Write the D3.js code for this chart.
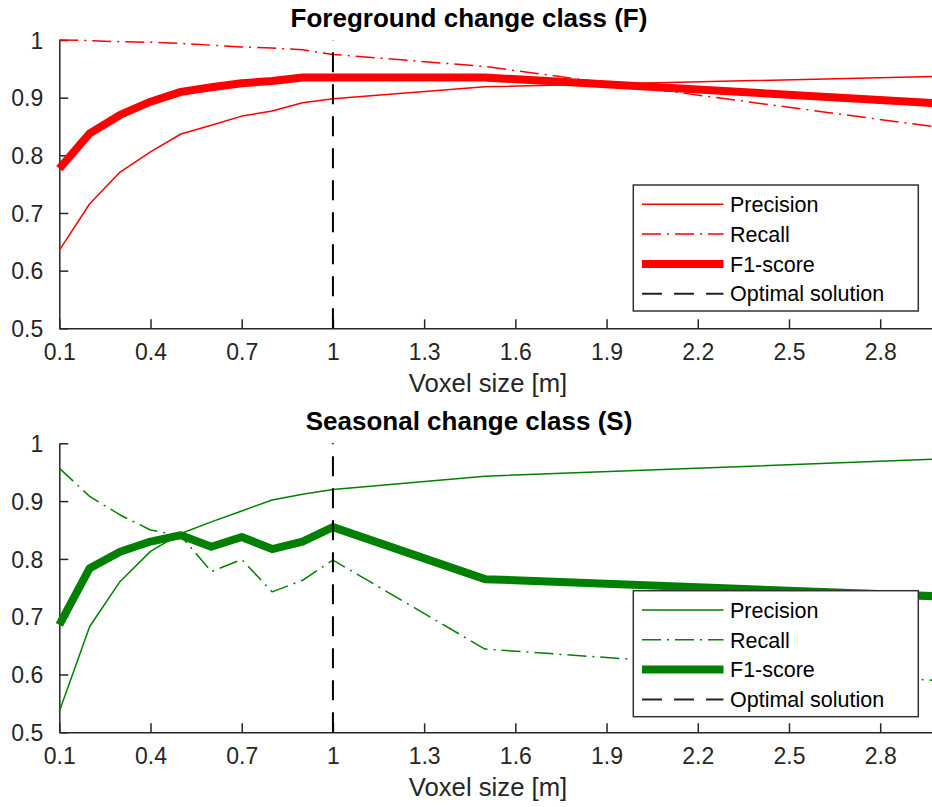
<!DOCTYPE html>
<html>
<head>
<meta charset="utf-8">
<script src="https://cdn.jsdelivr.net/npm/d3@7"></script>
<style>
  html, body { margin: 0; padding: 0; background: #fff; }
  svg { display: block; font-family: "Liberation Sans", Arial, Helvetica, sans-serif; }
</style>
</head>
<body>
<svg id="chart" width="932" height="807"></svg>
<script>
// Voxel sizes evaluated [m]
const voxelSizes = [0.1, 0.2, 0.3, 0.4, 0.5, 0.6, 0.7, 0.8, 0.9, 1.0, 1.5, 3.0];

// Foreground change class (F)
const precisionF = [0.635, 0.716, 0.771, 0.806, 0.837, 0.852, 0.868, 0.877, 0.891, 0.898, 0.919, 0.937];
const recallF    = [1.000, 0.999, 0.997, 0.996, 0.994, 0.991, 0.988, 0.986, 0.983, 0.975, 0.954, 0.848];
const f1F        = [0.777, 0.838, 0.870, 0.893, 0.910, 0.918, 0.925, 0.929, 0.935, 0.935, 0.935, 0.890];

// Seasonal change class (S)
const precisionS = [0.536, 0.683, 0.761, 0.813, 0.844, 0.864, 0.883, 0.902, 0.912, 0.920, 0.943, 0.973];
const recallS    = [0.957, 0.908, 0.876, 0.850, 0.840, 0.778, 0.799, 0.743, 0.763, 0.798, 0.644, 0.589];
const f1S        = [0.686, 0.784, 0.8125, 0.830, 0.841, 0.821, 0.838, 0.817, 0.830, 0.855, 0.765, 0.735];

// Chosen voxel size
const optimalSize = 1.0;

// Axis ticks and labels
const xTicks = [0.1, 0.4, 0.7, 1.0, 1.3, 1.6, 1.9, 2.2, 2.5, 2.8];
const xTickLabels = ["0.1", "0.4", "0.7", "1", "1.3", "1.6", "1.9", "2.2", "2.5", "2.8"];
const yTicks = [0.5, 0.6, 0.7, 0.8, 0.9, 1.0];
const yTickLabels = ["0.5", "0.6", "0.7", "0.8", "0.9", "1"];

const legendLabels = ["Precision", "Recall", "F1-score", "Optimal solution"];
const titles = ["Foreground change class (F)", "Seasonal change class (S)"];
const xLabel = "Voxel size [m]";

const svg = d3.select("#chart");
const axisColor = "#262626";

const panels = [
  { title: titles[0], color: "#ff0000", p: precisionF, r: recallF, f: f1F,
    top: 40, bottom: 328.3, legendTop: 185 },
  { title: titles[1], color: "#008000", p: precisionS, r: recallS, f: f1S,
    top: 443.3, bottom: 732.3, legendTop: 590.7 }
];

const x = d3.scaleLinear().domain([0.1, 3.0]).range([59.3, 941]);

const styles = {
  precision: { width: 1.5, dash: null },
  recall:    { width: 1.5, dash: "19,6,2,6" },
  f1:        { width: 8,   dash: null },
  optimal:   { width: 2,   dash: "20,12" }
};

panels.forEach(pn => {
  const y = d3.scaleLinear().domain([0.5, 1.0]).range([pn.bottom, pn.top]);
  const g = svg.append("g");

  // Title
  g.append("text")
    .attr("x", 469).attr("y", pn.top - 13)
    .attr("text-anchor", "middle")
    .attr("font-size", 26).attr("font-weight", "bold")
    .attr("fill", "#000")
    .text(pn.title);

  // Axes (inward ticks, no box)
  const xAxis = d3.axisBottom(x).tickValues(xTicks)
    .tickFormat((d, i) => xTickLabels[i]).tickSizeInner(-9).tickSizeOuter(0).tickPadding(15.5);
  const yAxis = d3.axisLeft(y).tickValues(yTicks)
    .tickFormat((d, i) => yTickLabels[i]).tickSizeInner(-9).tickSizeOuter(0).tickPadding(16);

  const gx = g.append("g").attr("transform", `translate(0,${pn.bottom})`).call(xAxis);
  const gy = g.append("g").attr("transform", `translate(${x(0.1)},0)`).call(yAxis);
  [gx, gy].forEach(a => {
    a.select(".domain").attr("stroke", axisColor).attr("stroke-width", 1.5);
    a.selectAll(".tick line").attr("stroke", axisColor).attr("stroke-width", 1.5);
    a.selectAll(".tick text").attr("fill", axisColor).attr("font-size", 23)
      .attr("font-family", "Liberation Sans, Arial, sans-serif");
  });
  gy.selectAll(".tick text").attr("dy", "0.36em");
  gx.selectAll(".tick text").attr("dy", "0.71em");

  // X label
  g.append("text")
    .attr("x", 488).attr("y", pn.bottom + 64)
    .attr("text-anchor", "middle")
    .attr("font-size", 25.7).attr("fill", axisColor)
    .text(xLabel);

  // Series lines
  const line = d3.line().x(d => x(d[0])).y(d => y(d[1]));
  const series = [
    { vals: pn.p, st: styles.precision },
    { vals: pn.r, st: styles.recall },
    { vals: pn.f, st: styles.f1 }
  ];
  series.forEach(s => {
    g.append("path")
      .datum(voxelSizes.map((v, i) => [v, s.vals[i]]))
      .attr("d", line)
      .attr("fill", "none")
      .attr("stroke", pn.color)
      .attr("stroke-width", s.st.width)
      .attr("stroke-linejoin", "round")
      .attr("stroke-dasharray", s.st.dash);
  });

  // Optimal voxel size marker (drawn bottom to top)
  g.append("path")
    .datum([[optimalSize, 0.5], [optimalSize, 1.0]])
    .attr("d", line)
    .attr("fill", "none")
    .attr("stroke", "#000")
    .attr("stroke-width", styles.optimal.width)
    .attr("stroke-dasharray", styles.optimal.dash);

  // Legend
  const lg = g.append("g");
  const lx0 = 633.3, lx1 = 918.3, rowH = 29.8;
  lg.append("rect")
    .attr("x", lx0).attr("y", pn.legendTop)
    .attr("width", lx1 - lx0).attr("height", 126)
    .attr("fill", "#fff").attr("stroke", "#333").attr("stroke-width", 1.5);
  const entries = [
    { label: legendLabels[0], color: pn.color, st: styles.precision },
    { label: legendLabels[1], color: pn.color, st: styles.recall },
    { label: legendLabels[2], color: pn.color, st: styles.f1 },
    { label: legendLabels[3], color: "#222", st: styles.optimal }
  ];
  entries.forEach((e, i) => {
    const cy = pn.legendTop + 19.3 + i * rowH;
    lg.append("line")
      .attr("x1", 642).attr("x2", 723.5).attr("y1", cy).attr("y2", cy)
      .attr("stroke", e.color).attr("stroke-width", e.st.width)
      .attr("stroke-dasharray", e.st.dash);
    lg.append("text")
      .attr("x", 730).attr("y", cy).attr("dy", "0.36em")
      .attr("font-size", 21.5).attr("fill", "#000")
      .text(e.label);
  });
});
</script>
</body>
</html>
